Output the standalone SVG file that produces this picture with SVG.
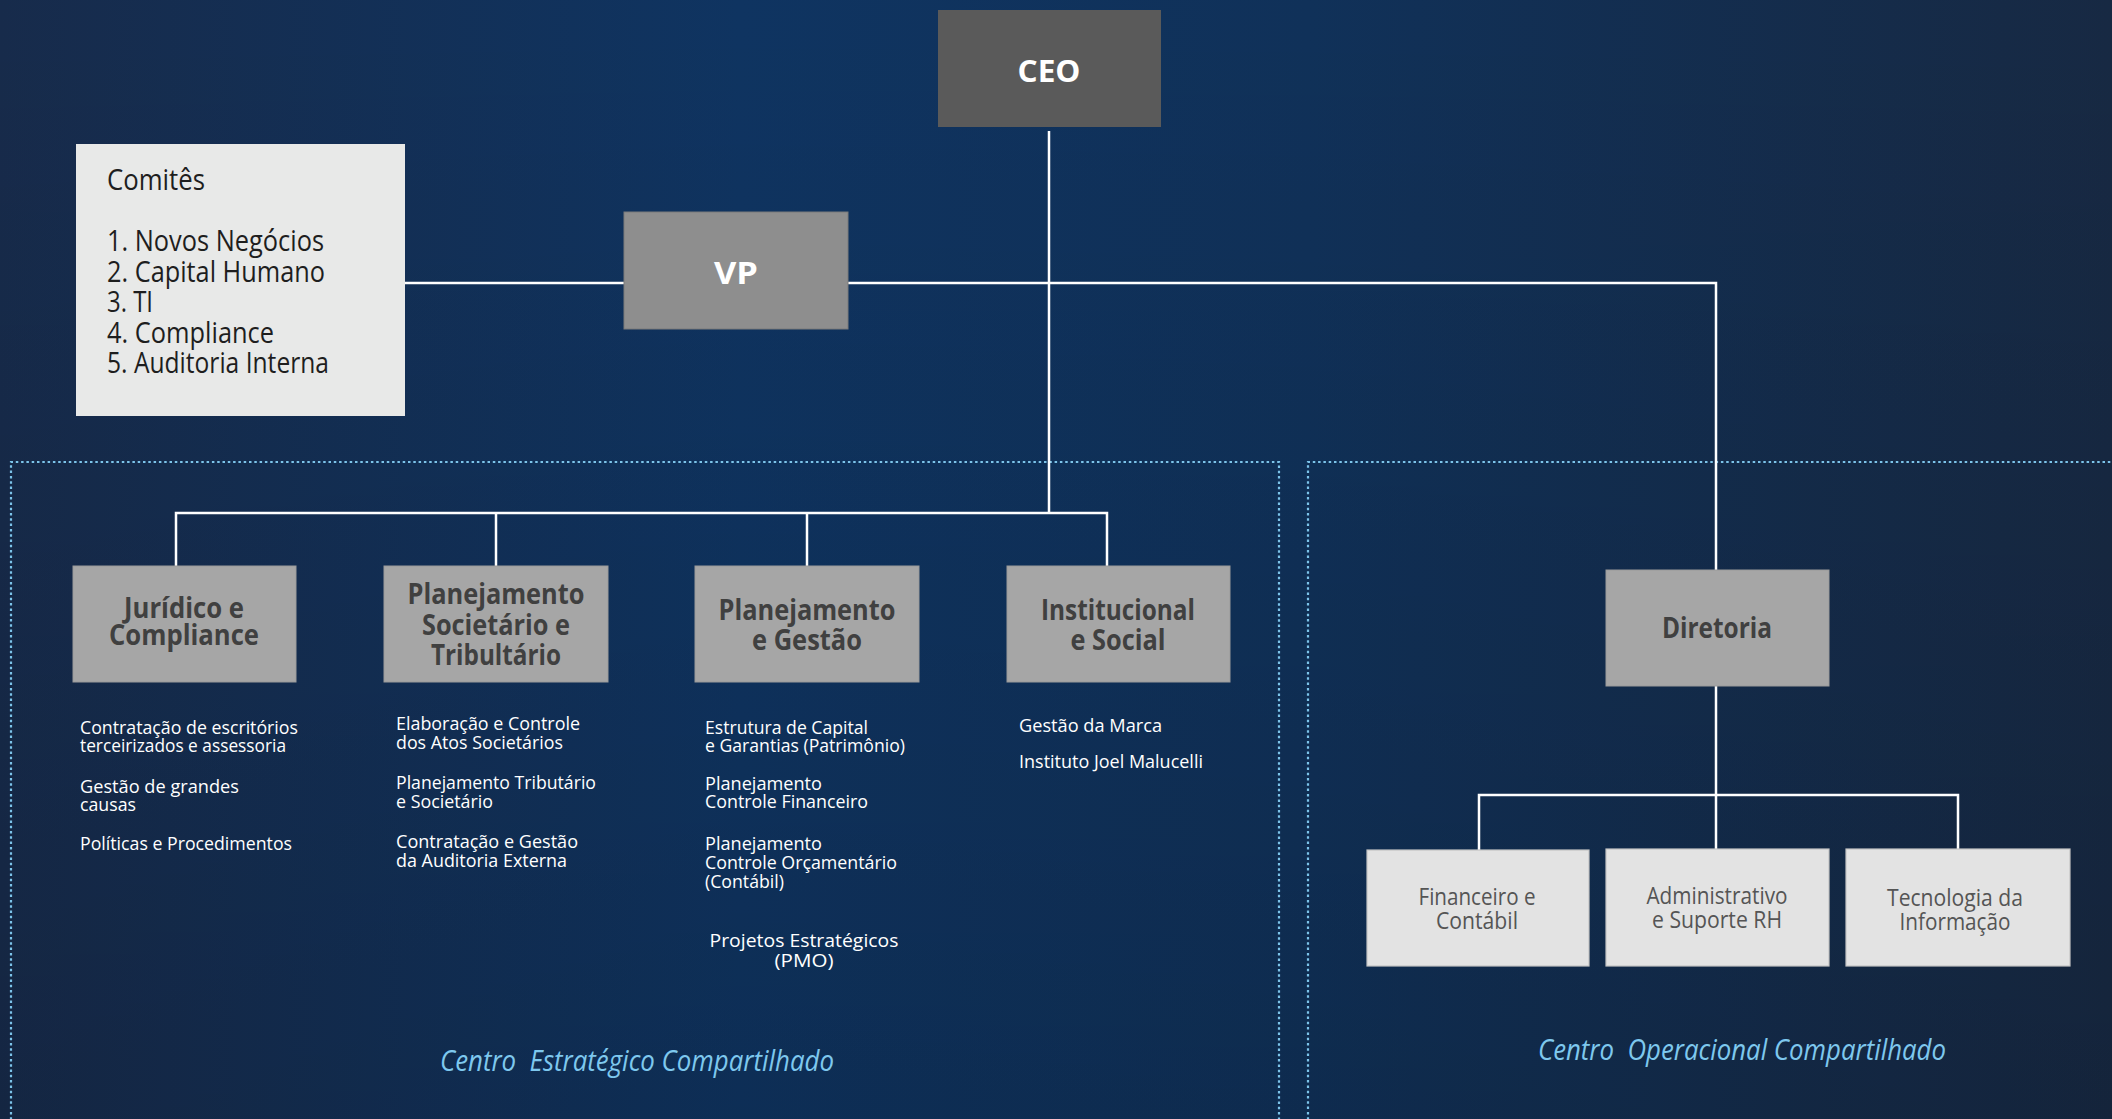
<svg xmlns="http://www.w3.org/2000/svg" width="2112" height="1119" viewBox="0 0 2112 1119">
<defs>
<linearGradient id="bg" x1="0" y1="0" x2="1" y2="0">
<stop offset="0" stop-color="#172b4b"/>
<stop offset="0.35" stop-color="#0f3461"/>
<stop offset="0.62" stop-color="#103159"/>
<stop offset="1" stop-color="#172943"/>
</linearGradient>
<linearGradient id="shade" x1="0" y1="0" x2="0" y2="1">
<stop offset="0" stop-color="#000" stop-opacity="0"/>
<stop offset="1" stop-color="#000" stop-opacity="0.12"/>
</linearGradient>
<style>
.hd{font-family:"Open Sans","Liberation Sans",sans-serif;font-weight:700;text-anchor:middle}
.top{fill:#ffffff;font-size:31px}
.mid{fill:#404040;font-size:28px}
.it{font-family:"Open Sans","Liberation Sans",sans-serif;fill:#ffffff;font-size:19px}
.cm{font-family:"Open Sans","Liberation Sans",sans-serif;fill:#1e1e1e;font-size:29px}
.bt{font-family:"Open Sans","Liberation Sans",sans-serif;fill:#555555;font-size:24px;text-anchor:middle}
.ctr{font-family:"Open Sans","Liberation Sans",sans-serif;font-style:italic;fill:#7ec8ee;font-size:29px;text-anchor:middle;white-space:pre}
.dot{fill:none;stroke:#7cc4ea;stroke-width:2.2;stroke-dasharray:2.5 2.8}
.ln{fill:none;stroke:#ffffff;stroke-width:2.5}
.gbox{fill:#a6a6a6;stroke:#9a9a9a;stroke-width:1}
.lbox{fill:#e3e3e3;stroke:#c4c4c4;stroke-width:1.2}
</style>
</defs>
<rect x="0" y="0" width="2112" height="1119" fill="url(#bg)"/>
<rect x="0" y="0" width="2112" height="1119" fill="url(#shade)"/>

<g id="regions">
<path class="dot" d="M11,1125 V462 H1279 V1125"/>
<path class="dot" d="M1308,1125 V462 H2120"/>
<text class="ctr" x="637" y="1071" textLength="394" lengthAdjust="spacingAndGlyphs" xml:space="preserve">Centro  Estratégico Compartilhado</text>
<text class="ctr" x="1742" y="1060" textLength="408" lengthAdjust="spacingAndGlyphs" xml:space="preserve">Centro  Operacional Compartilhado</text>
</g>

<g id="connectors">
<path class="ln" d="M1049,131 V513"/>
<path class="ln" d="M176,566 V513 H1107 V566"/>
<path class="ln" d="M496,513 V566"/>
<path class="ln" d="M807,513 V566"/>
<path class="ln" d="M405,283 H624"/>
<path class="ln" d="M848,283 H1716 V570"/>
<path class="ln" d="M1716,686 V850"/>
<path class="ln" d="M1479,850 V795 H1958 V850"/>
</g>

<g id="ceo">
<rect x="938" y="10" width="223" height="117" fill="#5a5a5a"/>
<text class="hd top" x="1049" y="82" textLength="63" lengthAdjust="spacingAndGlyphs">CEO</text>
</g>

<g id="vp">
<rect x="624" y="212" width="224" height="117" fill="#8e8e8e" stroke="#7a7a7a" stroke-width="1"/>
<text class="hd top" x="736" y="284" textLength="44" lengthAdjust="spacingAndGlyphs">VP</text>
</g>

<g id="comites">
<rect x="76" y="144" width="329" height="272" fill="#e8e9e8"/>
<text class="cm" x="107" y="190" textLength="98" lengthAdjust="spacingAndGlyphs">Comitês</text>
<text class="cm" x="107" y="251" textLength="217" lengthAdjust="spacingAndGlyphs">1. Novos Negócios</text>
<text class="cm" x="107" y="282" textLength="218" lengthAdjust="spacingAndGlyphs">2. Capital Humano</text>
<text class="cm" x="107" y="312" textLength="46" lengthAdjust="spacingAndGlyphs">3. TI</text>
<text class="cm" x="107" y="343" textLength="167" lengthAdjust="spacingAndGlyphs">4. Compliance</text>
<text class="cm" x="107" y="373" textLength="222" lengthAdjust="spacingAndGlyphs">5. Auditoria Interna</text>
</g>

<g id="juridico">
<rect class="gbox" x="73" y="566" width="223" height="116"/>
<text class="hd mid" x="184" y="618" textLength="120" lengthAdjust="spacingAndGlyphs">Jurídico e</text>
<text class="hd mid" x="184" y="645" textLength="150" lengthAdjust="spacingAndGlyphs">Compliance</text>
<text class="it" x="80" y="734" textLength="218" lengthAdjust="spacingAndGlyphs">Contratação de escritórios</text>
<text class="it" x="80" y="752" textLength="206" lengthAdjust="spacingAndGlyphs">terceirizados e assessoria</text>
<text class="it" x="80" y="793" textLength="159" lengthAdjust="spacingAndGlyphs">Gestão de grandes</text>
<text class="it" x="80" y="811" textLength="56" lengthAdjust="spacingAndGlyphs">causas</text>
<text class="it" x="80" y="850" textLength="212" lengthAdjust="spacingAndGlyphs">Políticas e Procedimentos</text>
</g>

<g id="plan-societario">
<rect class="gbox" x="384" y="566" width="224" height="116"/>
<text class="hd mid" x="496" y="604" textLength="177" lengthAdjust="spacingAndGlyphs">Planejamento</text>
<text class="hd mid" x="496" y="635" textLength="148" lengthAdjust="spacingAndGlyphs">Societário e</text>
<text class="hd mid" x="496" y="665" textLength="130" lengthAdjust="spacingAndGlyphs">Tribultário</text>
<text class="it" x="396" y="730" textLength="184" lengthAdjust="spacingAndGlyphs">Elaboração e Controle</text>
<text class="it" x="396" y="749" textLength="167" lengthAdjust="spacingAndGlyphs">dos Atos Societários</text>
<text class="it" x="396" y="789" textLength="200" lengthAdjust="spacingAndGlyphs">Planejamento Tributário</text>
<text class="it" x="396" y="808" textLength="97" lengthAdjust="spacingAndGlyphs">e Societário</text>
<text class="it" x="396" y="848" textLength="182" lengthAdjust="spacingAndGlyphs">Contratação e Gestão</text>
<text class="it" x="396" y="867" textLength="171" lengthAdjust="spacingAndGlyphs">da Auditoria Externa</text>
</g>

<g id="plan-gestao">
<rect class="gbox" x="695" y="566" width="224" height="116"/>
<text class="hd mid" x="807" y="620" textLength="177" lengthAdjust="spacingAndGlyphs">Planejamento</text>
<text class="hd mid" x="807" y="650" textLength="110" lengthAdjust="spacingAndGlyphs">e Gestão</text>
<text class="it" x="705" y="734" textLength="163" lengthAdjust="spacingAndGlyphs">Estrutura de Capital</text>
<text class="it" x="705" y="752" textLength="200" lengthAdjust="spacingAndGlyphs">e Garantias (Patrimônio)</text>
<text class="it" x="705" y="790" textLength="117" lengthAdjust="spacingAndGlyphs">Planejamento</text>
<text class="it" x="705" y="808" textLength="163" lengthAdjust="spacingAndGlyphs">Controle Financeiro</text>
<text class="it" x="705" y="850" textLength="117" lengthAdjust="spacingAndGlyphs">Planejamento</text>
<text class="it" x="705" y="869" textLength="192" lengthAdjust="spacingAndGlyphs">Controle Orçamentário</text>
<text class="it" x="705" y="888" textLength="79" lengthAdjust="spacingAndGlyphs">(Contábil)</text>
<text class="it" x="804" y="947" text-anchor="middle" textLength="189" lengthAdjust="spacingAndGlyphs">Projetos Estratégicos</text>
<text class="it" x="804" y="967" text-anchor="middle" textLength="59" lengthAdjust="spacingAndGlyphs">(PMO)</text>
</g>

<g id="institucional">
<rect class="gbox" x="1007" y="566" width="223" height="116"/>
<text class="hd mid" x="1118" y="620" textLength="154" lengthAdjust="spacingAndGlyphs">Institucional</text>
<text class="hd mid" x="1118" y="650" textLength="95" lengthAdjust="spacingAndGlyphs">e Social</text>
<text class="it" x="1019" y="732" textLength="143" lengthAdjust="spacingAndGlyphs">Gestão da Marca</text>
<text class="it" x="1019" y="768" textLength="184" lengthAdjust="spacingAndGlyphs">Instituto Joel Malucelli</text>
</g>

<g id="diretoria">
<rect class="gbox" x="1606" y="570" width="223" height="116"/>
<text class="hd mid" x="1717" y="638" textLength="110" lengthAdjust="spacingAndGlyphs">Diretoria</text>
</g>

<g id="financeiro">
<rect class="lbox" x="1367" y="850" width="222" height="116"/>
<text class="bt" x="1477" y="905" textLength="117" lengthAdjust="spacingAndGlyphs">Financeiro e</text>
<text class="bt" x="1477" y="929" textLength="82" lengthAdjust="spacingAndGlyphs">Contábil</text>
</g>

<g id="administrativo">
<rect class="lbox" x="1606" y="849" width="223" height="117"/>
<text class="bt" x="1717" y="904" textLength="141" lengthAdjust="spacingAndGlyphs">Administrativo</text>
<text class="bt" x="1717" y="928" textLength="130" lengthAdjust="spacingAndGlyphs">e Suporte RH</text>
</g>

<g id="tecnologia">
<rect class="lbox" x="1846" y="849" width="224" height="117"/>
<text class="bt" x="1955" y="906" textLength="136" lengthAdjust="spacingAndGlyphs">Tecnologia da</text>
<text class="bt" x="1955" y="930" textLength="111" lengthAdjust="spacingAndGlyphs">Informação</text>
</g>
</svg>
